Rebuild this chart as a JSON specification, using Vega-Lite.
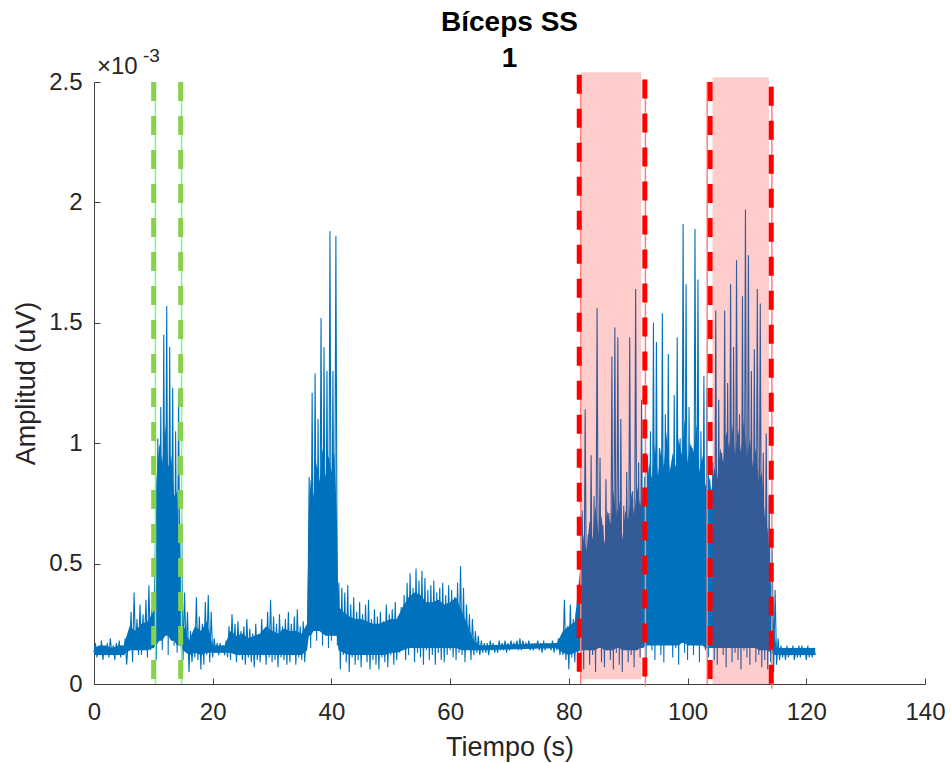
{
"$schema": "https://vega.github.io/schema/vega-lite/v6.json",
"width": 831, "height": 602,
"autosize": {"type": "none"},
"padding": {"left": 94, "top": 82, "right": 26, "bottom": 79},
"background": "white",
"title": {"text": ["Bíceps SS", "1"], "font": "Liberation Sans", "fontSize": 28, "fontWeight": "bold", "color": "#000000", "lineHeight": 36, "anchor": "middle", "offset": -26},
"config": {"view": {"stroke": null}, "axis": {"grid": false, "labelFont": "Liberation Sans", "titleFont": "Liberation Sans", "labelColor": "#262626", "titleColor": "#262626", "domainColor": "#404040", "tickColor": "#404040", "labelFontSize": 24, "titleFontSize": 27, "titleFontWeight": "normal", "domainWidth": 1, "tickWidth": 1, "labelFlush": false}},
"layer": [
{"data": {"values": [
{"t":0,"lo":0.00012,"hi":0.00015},{"t":1,"lo":0.00012,"hi":0.00016},{"t":2,"lo":0.00012,"hi":0.00016},{"t":3,"lo":0.00012,"hi":0.00015},{"t":4,"lo":0.00012,"hi":0.00016},{"t":5,"lo":0.00012,"hi":0.00016},
{"t":6,"lo":0.00014,"hi":0.00024},{"t":7,"lo":0.00014,"hi":0.00022},{"t":8,"lo":0.00014,"hi":0.00025},{"t":9,"lo":0.00014,"hi":0.00026},{"t":10,"lo":0.00015,"hi":0.00030},
{"t":10.5,"lo":0.00016,"hi":0.00085},{"t":11,"lo":0.00018,"hi":0.00100},{"t":11.5,"lo":0.00018,"hi":0.00092},{"t":12,"lo":0.00020,"hi":0.00108},{"t":12.5,"lo":0.00020,"hi":0.00090},{"t":13,"lo":0.00018,"hi":0.00095},{"t":13.5,"lo":0.00018,"hi":0.00078},{"t":14,"lo":0.00016,"hi":0.00080},{"t":14.5,"lo":0.00016,"hi":0.00045},
{"t":15,"lo":0.00014,"hi":0.00025},{"t":16,"lo":0.00012,"hi":0.00018},{"t":17,"lo":0.00013,"hi":0.00024},{"t":18,"lo":0.00012,"hi":0.00022},{"t":19,"lo":0.00013,"hi":0.00026},
{"t":20,"lo":0.00013,"hi":0.00016},{"t":21,"lo":0.00013,"hi":0.00016},{"t":22,"lo":0.00013,"hi":0.00016},{"t":23,"lo":0.00013,"hi":0.00022},{"t":24,"lo":0.00012,"hi":0.00020},{"t":25,"lo":0.00012,"hi":0.00021},{"t":26,"lo":0.00012,"hi":0.00019},{"t":27,"lo":0.00012,"hi":0.00020},{"t":28,"lo":0.00012,"hi":0.00021},{"t":29,"lo":0.00012,"hi":0.00024},{"t":30,"lo":0.00012,"hi":0.00022},{"t":31,"lo":0.00012,"hi":0.00021},{"t":32,"lo":0.00012,"hi":0.00023},{"t":33,"lo":0.00012,"hi":0.00022},{"t":34,"lo":0.00012,"hi":0.00022},{"t":35,"lo":0.00012,"hi":0.00021},{"t":35.9,"lo":0.00014,"hi":0.00025},
{"t":36.2,"lo":0.00020,"hi":0.00072},{"t":36.5,"lo":0.00020,"hi":0.00085},{"t":37,"lo":0.00022,"hi":0.00078},{"t":37.5,"lo":0.00022,"hi":0.00092},{"t":38,"lo":0.00022,"hi":0.00084},{"t":38.5,"lo":0.00021,"hi":0.00098},{"t":39,"lo":0.00020,"hi":0.00086},{"t":39.5,"lo":0.00020,"hi":0.00095},{"t":40,"lo":0.00020,"hi":0.00088},{"t":40.5,"lo":0.00020,"hi":0.00096},{"t":40.9,"lo":0.00020,"hi":0.00070},
{"t":41.2,"lo":0.00014,"hi":0.00032},{"t":42,"lo":0.00013,"hi":0.00030},{"t":43,"lo":0.00012,"hi":0.00028},{"t":44,"lo":0.00012,"hi":0.00027},{"t":45,"lo":0.00012,"hi":0.00027},{"t":46,"lo":0.00012,"hi":0.00026},{"t":47,"lo":0.00012,"hi":0.00025},{"t":48,"lo":0.00012,"hi":0.00025},{"t":49,"lo":0.00012,"hi":0.00026},{"t":50,"lo":0.00013,"hi":0.00027},{"t":51,"lo":0.00013,"hi":0.00027},
{"t":52,"lo":0.00014,"hi":0.00032},{"t":53,"lo":0.00015,"hi":0.00036},{"t":54,"lo":0.00015,"hi":0.00038},{"t":55,"lo":0.00015,"hi":0.00037},{"t":56,"lo":0.00015,"hi":0.00034},{"t":57,"lo":0.00015,"hi":0.00034},{"t":58,"lo":0.00015,"hi":0.00035},{"t":59,"lo":0.00015,"hi":0.00033},{"t":60,"lo":0.00015,"hi":0.00034},{"t":61,"lo":0.00015,"hi":0.00036},{"t":62,"lo":0.00014,"hi":0.00030},{"t":63,"lo":0.00014,"hi":0.00024},{"t":64,"lo":0.00014,"hi":0.00018},
{"t":65,"lo":0.00014,"hi":0.00016},{"t":78,"lo":0.00015,"hi":0.00017},{"t":79,"lo":0.00013,"hi":0.00022},{"t":80,"lo":0.00012,"hi":0.00024},{"t":81,"lo":0.00013,"hi":0.00026},
{"t":82,"lo":0.00014,"hi":0.00050},{"t":82.5,"lo":0.00014,"hi":0.00062},{"t":83,"lo":0.00014,"hi":0.00055},{"t":83.5,"lo":0.00014,"hi":0.00068},{"t":84,"lo":0.00014,"hi":0.00060},{"t":84.5,"lo":0.00014,"hi":0.00074},{"t":85,"lo":0.00015,"hi":0.00062},{"t":85.5,"lo":0.00015,"hi":0.00070},{"t":86,"lo":0.00014,"hi":0.00058},{"t":86.5,"lo":0.00014,"hi":0.00072},{"t":87,"lo":0.00014,"hi":0.00066},{"t":87.5,"lo":0.00014,"hi":0.00080},{"t":88,"lo":0.00015,"hi":0.00070},{"t":88.5,"lo":0.00015,"hi":0.00076},{"t":89,"lo":0.00014,"hi":0.00060},{"t":89.5,"lo":0.00014,"hi":0.00072},{"t":90,"lo":0.00014,"hi":0.00068},{"t":90.5,"lo":0.00014,"hi":0.00080},{"t":91,"lo":0.00014,"hi":0.00070},{"t":91.5,"lo":0.00014,"hi":0.00082},{"t":92,"lo":0.00015,"hi":0.00074},{"t":92.5,"lo":0.00015,"hi":0.00080},
{"t":93,"lo":0.00016,"hi":0.00076},{"t":93.5,"lo":0.00016,"hi":0.00092},{"t":94,"lo":0.00016,"hi":0.00085},{"t":94.5,"lo":0.00016,"hi":0.00100},{"t":95,"lo":0.00016,"hi":0.00086},{"t":95.5,"lo":0.00016,"hi":0.00098},{"t":96,"lo":0.00016,"hi":0.00090},{"t":96.5,"lo":0.00016,"hi":0.00105},{"t":97,"lo":0.00016,"hi":0.00088},{"t":97.5,"lo":0.00016,"hi":0.00096},{"t":98,"lo":0.00016,"hi":0.00090},{"t":98.5,"lo":0.00016,"hi":0.00102},{"t":99,"lo":0.00017,"hi":0.00095},{"t":99.5,"lo":0.00017,"hi":0.00110},{"t":100,"lo":0.00016,"hi":0.00092},{"t":100.5,"lo":0.00016,"hi":0.00100},{"t":101,"lo":0.00016,"hi":0.00096},{"t":101.5,"lo":0.00016,"hi":0.00108},{"t":102,"lo":0.00016,"hi":0.00088},{"t":102.5,"lo":0.00016,"hi":0.00095},{"t":103,"lo":0.00015,"hi":0.00082},{"t":103.5,"lo":0.00015,"hi":0.00088},
{"t":104,"lo":0.00015,"hi":0.00080},{"t":104.5,"lo":0.00015,"hi":0.00090},{"t":105,"lo":0.00015,"hi":0.00085},{"t":105.5,"lo":0.00015,"hi":0.00098},{"t":106,"lo":0.00015,"hi":0.00092},{"t":106.5,"lo":0.00015,"hi":0.00105},{"t":107,"lo":0.00015,"hi":0.00098},{"t":107.5,"lo":0.00015,"hi":0.00108},{"t":108,"lo":0.00015,"hi":0.00095},{"t":108.5,"lo":0.00015,"hi":0.00106},{"t":109,"lo":0.00015,"hi":0.00096},{"t":109.5,"lo":0.00015,"hi":0.00110},{"t":110,"lo":0.00015,"hi":0.00094},{"t":110.5,"lo":0.00015,"hi":0.00102},{"t":111,"lo":0.00015,"hi":0.00090},{"t":111.5,"lo":0.00015,"hi":0.00098},{"t":112,"lo":0.00014,"hi":0.00084},{"t":112.5,"lo":0.00014,"hi":0.00088},{"t":113,"lo":0.00014,"hi":0.00070},{"t":113.5,"lo":0.00014,"hi":0.00064},{"t":114,"lo":0.00013,"hi":0.00042},{"t":114.7,"lo":0.00012,"hi":0.00020},
{"t":115,"lo":0.00012,"hi":0.00015},{"t":121.5,"lo":0.00012,"hi":0.00015}
]},
"mark": {"type": "area", "color": "#0072BD", "opacity": 1},
"encoding": {"x": {"field": "t", "type": "quantitative"}, "y": {"field": "lo", "type": "quantitative"}, "y2": {"field": "hi"}}},
{"data": {"values": [
{"t":0,"a":0.00013},{"t":0.25,"a":0.00017},{"t":0.5,"a":0.00011},{"t":0.75,"a":0.00016},
{"t":1,"a":0.00012},{"t":1.25,"a":0.00018},{"t":1.5,"a":0.00010},{"t":1.75,"a":0.00015},
{"t":2,"a":0.00012},{"t":2.25,"a":0.00017},{"t":2.5,"a":0.00011},{"t":2.75,"a":0.00019},
{"t":3,"a":0.00013},{"t":3.25,"a":0.00016},{"t":3.5,"a":0.00010},{"t":3.75,"a":0.00017},
{"t":4,"a":0.00012},{"t":4.25,"a":0.00018},{"t":4.5,"a":0.00011},{"t":4.75,"a":0.00016},
{"t":5,"a":0.00012},{"t":5.25,"a":0.00019},{"t":5.5,"a":0.00008},{"t":5.75,"a":0.00017},
{"t":6,"a":0.00014},{"t":6.25,"a":0.00030},{"t":6.5,"a":0.00009},{"t":6.75,"a":0.00038},
{"t":7,"a":0.00015},{"t":7.25,"a":0.00027},{"t":7.5,"a":0.00012},{"t":7.75,"a":0.00033},
{"t":8,"a":0.00012},{"t":8.25,"a":0.00029},{"t":8.5,"a":0.00016},{"t":8.75,"a":0.00035},
{"t":9,"a":0.00011},{"t":9.25,"a":0.00041},{"t":9.5,"a":0.00014},{"t":9.75,"a":0.00031},
{"t":10,"a":0.00015},{"t":10.25,"a":0.00036},{"t":10.5,"a":0.00010},{"t":10.75,"a":0.00102},
{"t":11,"a":0.00018},{"t":11.25,"a":0.00115},{"t":11.5,"a":0.00014},{"t":11.75,"a":0.00145},
{"t":12,"a":0.00022},{"t":12.25,"a":0.00157},{"t":12.5,"a":0.00012},{"t":12.75,"a":0.00140},
{"t":13,"a":0.00020},{"t":13.25,"a":0.00123},{"t":13.5,"a":0.00016},{"t":13.75,"a":0.00105},
{"t":14,"a":0.00013},{"t":14.25,"a":0.00121},{"t":14.5,"a":0.00022},{"t":14.75,"a":0.00072},
{"t":15,"a":0.00010},{"t":15.25,"a":0.00038},{"t":15.5,"a":0.00014},{"t":15.75,"a":0.00030},
{"t":16,"a":0.00005},{"t":16.25,"a":0.00022},{"t":16.5,"a":0.00009},{"t":16.75,"a":0.00018},
{"t":17,"a":0.00011},{"t":17.25,"a":0.00036},{"t":17.5,"a":0.00010},{"t":17.75,"a":0.00028},
{"t":18,"a":0.00006},{"t":18.25,"a":0.00025},{"t":18.5,"a":0.00008},{"t":18.75,"a":0.00034},
{"t":19,"a":0.00012},{"t":19.25,"a":0.00037},{"t":19.5,"a":0.00009},{"t":19.75,"a":0.00030},
{"t":20,"a":0.00011},{"t":20.25,"a":0.00019},{"t":20.5,"a":0.00013},{"t":20.75,"a":0.00017},
{"t":21,"a":0.00012},{"t":21.25,"a":0.00017},{"t":21.5,"a":0.00013},{"t":21.75,"a":0.00016},
{"t":22,"a":0.00012},{"t":22.25,"a":0.00018},{"t":22.5,"a":0.00011},{"t":22.75,"a":0.00024},
{"t":23,"a":0.00010},{"t":23.25,"a":0.00029},{"t":23.5,"a":0.00013},{"t":23.75,"a":0.00025},
{"t":24,"a":0.00009},{"t":24.25,"a":0.00026},{"t":24.5,"a":0.00012},{"t":24.75,"a":0.00022},
{"t":25,"a":0.00010},{"t":25.25,"a":0.00024},{"t":25.5,"a":0.00008},{"t":25.75,"a":0.00027},
{"t":26,"a":0.00011},{"t":26.25,"a":0.00023},{"t":26.5,"a":0.00009},{"t":26.75,"a":0.00021},
{"t":27,"a":0.00007},{"t":27.25,"a":0.00025},{"t":27.5,"a":0.00010},{"t":27.75,"a":0.00020},
{"t":28,"a":0.00009},{"t":28.25,"a":0.00027},{"t":28.5,"a":0.00012},{"t":28.75,"a":0.00022},
{"t":29,"a":0.00008},{"t":29.25,"a":0.00030},{"t":29.5,"a":0.00011},{"t":29.75,"a":0.00035},
{"t":30,"a":0.00009},{"t":30.25,"a":0.00028},{"t":30.5,"a":0.00010},{"t":30.75,"a":0.00025},
{"t":31,"a":0.00007},{"t":31.25,"a":0.00029},{"t":31.5,"a":0.00011},{"t":31.75,"a":0.00024},
{"t":32,"a":0.00010},{"t":32.25,"a":0.00027},{"t":32.5,"a":0.00008},{"t":32.75,"a":0.00030},
{"t":33,"a":0.00009},{"t":33.25,"a":0.00025},{"t":33.5,"a":0.00012},{"t":33.75,"a":0.00028},
{"t":34,"a":0.00008},{"t":34.25,"a":0.00031},{"t":34.5,"a":0.00011},{"t":34.75,"a":0.00024},
{"t":35,"a":0.00010},{"t":35.25,"a":0.00026},{"t":35.5,"a":0.00009},{"t":35.75,"a":0.00023},
{"t":36,"a":0.00020},{"t":36.25,"a":0.00086},{"t":36.5,"a":0.00015},{"t":36.75,"a":0.00121},
{"t":37,"a":0.00022},{"t":37.25,"a":0.00129},{"t":37.5,"a":0.00018},{"t":37.75,"a":0.00110},
{"t":38,"a":0.00025},{"t":38.25,"a":0.00152},{"t":38.5,"a":0.00016},{"t":38.75,"a":0.00140},
{"t":39,"a":0.00021},{"t":39.25,"a":0.00130},{"t":39.5,"a":0.00015},{"t":39.75,"a":0.00188},
{"t":40,"a":0.00018},{"t":40.25,"a":0.00130},{"t":40.5,"a":0.00020},{"t":40.75,"a":0.00186},
{"t":41,"a":0.00016},{"t":41.25,"a":0.00042},{"t":41.5,"a":0.00006},{"t":41.75,"a":0.00040},
{"t":42,"a":0.00012},{"t":42.25,"a":0.00038},{"t":42.5,"a":0.00009},{"t":42.75,"a":0.00041},
{"t":43,"a":0.00005},{"t":43.25,"a":0.00033},{"t":43.5,"a":0.00011},{"t":43.75,"a":0.00036},
{"t":44,"a":0.00008},{"t":44.25,"a":0.00030},{"t":44.5,"a":0.00010},{"t":44.75,"a":0.00034},
{"t":45,"a":0.00007},{"t":45.25,"a":0.00029},{"t":45.5,"a":0.00012},{"t":45.75,"a":0.00033},
{"t":46,"a":0.00009},{"t":46.25,"a":0.00035},{"t":46.5,"a":0.00006},{"t":46.75,"a":0.00027},
{"t":47,"a":0.00010},{"t":47.25,"a":0.00031},{"t":47.5,"a":0.00008},{"t":47.75,"a":0.00028},
{"t":48,"a":0.00006},{"t":48.25,"a":0.00030},{"t":48.5,"a":0.00011},{"t":48.75,"a":0.00026},
{"t":49,"a":0.00009},{"t":49.25,"a":0.00033},{"t":49.5,"a":0.00007},{"t":49.75,"a":0.00029},
{"t":50,"a":0.00012},{"t":50.25,"a":0.00031},{"t":50.5,"a":0.00008},{"t":50.75,"a":0.00034},
{"t":51,"a":0.00010},{"t":51.25,"a":0.00028},{"t":51.5,"a":0.00013},{"t":51.75,"a":0.00032},
{"t":52,"a":0.00014},{"t":52.25,"a":0.00037},{"t":52.5,"a":0.00010},{"t":52.75,"a":0.00042},
{"t":53,"a":0.00012},{"t":53.25,"a":0.00046},{"t":53.5,"a":0.00015},{"t":53.75,"a":0.00040},
{"t":54,"a":0.00009},{"t":54.25,"a":0.00048},{"t":54.5,"a":0.00013},{"t":54.75,"a":0.00043},
{"t":55,"a":0.00011},{"t":55.25,"a":0.00047},{"t":55.5,"a":0.00008},{"t":55.75,"a":0.00044},
{"t":56,"a":0.00014},{"t":56.25,"a":0.00039},{"t":56.5,"a":0.00010},{"t":56.75,"a":0.00041},
{"t":57,"a":0.00012},{"t":57.25,"a":0.00043},{"t":57.5,"a":0.00008},{"t":57.75,"a":0.00038},
{"t":58,"a":0.00013},{"t":58.25,"a":0.00040},{"t":58.5,"a":0.00010},{"t":58.75,"a":0.00042},
{"t":59,"a":0.00009},{"t":59.25,"a":0.00037},{"t":59.5,"a":0.00012},{"t":59.75,"a":0.00041},
{"t":60,"a":0.00014},{"t":60.25,"a":0.00039},{"t":60.5,"a":0.00011},{"t":60.75,"a":0.00036},
{"t":61,"a":0.00010},{"t":61.25,"a":0.00042},{"t":61.5,"a":0.00013},{"t":61.75,"a":0.00049},
{"t":62,"a":0.00012},{"t":62.25,"a":0.00040},{"t":62.5,"a":0.00009},{"t":62.75,"a":0.00033},
{"t":63,"a":0.00015},{"t":63.25,"a":0.00029},{"t":63.5,"a":0.00010},{"t":63.75,"a":0.00027},
{"t":64,"a":0.00012},{"t":64.25,"a":0.00022},{"t":64.5,"a":0.00013},{"t":64.75,"a":0.00020},
{"t":65,"a":0.00012},{"t":65.25,"a":0.00018},{"t":65.5,"a":0.00013},{"t":65.75,"a":0.00017},
{"t":66,"a":0.00013},{"t":66.25,"a":0.00017},{"t":66.5,"a":0.00012},{"t":66.75,"a":0.00018},
{"t":67,"a":0.00014},{"t":67.25,"a":0.00017},{"t":67.5,"a":0.00013},{"t":67.75,"a":0.00016},
{"t":68,"a":0.00013},{"t":68.25,"a":0.00018},{"t":68.5,"a":0.00014},{"t":68.75,"a":0.00017},
{"t":69,"a":0.00014},{"t":69.25,"a":0.00018},{"t":69.5,"a":0.00013},{"t":69.75,"a":0.00017},
{"t":70,"a":0.00014},{"t":70.25,"a":0.00018},{"t":70.5,"a":0.00015},{"t":70.75,"a":0.00017},
{"t":71,"a":0.00015},{"t":71.25,"a":0.00018},{"t":71.5,"a":0.00014},{"t":71.75,"a":0.00019},
{"t":72,"a":0.00014},{"t":72.25,"a":0.00018},{"t":72.5,"a":0.00015},{"t":72.75,"a":0.00017},
{"t":73,"a":0.00015},{"t":73.25,"a":0.00018},{"t":73.5,"a":0.00014},{"t":73.75,"a":0.00017},
{"t":74,"a":0.00014},{"t":74.25,"a":0.00017},{"t":74.5,"a":0.00015},{"t":74.75,"a":0.00018},
{"t":75,"a":0.00014},{"t":75.25,"a":0.00017},{"t":75.5,"a":0.00013},{"t":75.75,"a":0.00018},
{"t":76,"a":0.00014},{"t":76.25,"a":0.00017},{"t":76.5,"a":0.00015},{"t":76.75,"a":0.00016},
{"t":77,"a":0.00014},{"t":77.25,"a":0.00018},{"t":77.5,"a":0.00013},{"t":77.75,"a":0.00017},
{"t":78,"a":0.00014},{"t":78.25,"a":0.00019},{"t":78.5,"a":0.00012},{"t":78.75,"a":0.00018},
{"t":79,"a":0.00012},{"t":79.25,"a":0.00035},{"t":79.5,"a":0.00010},{"t":79.75,"a":0.00024},
{"t":80,"a":0.00006},{"t":80.25,"a":0.00033},{"t":80.5,"a":0.00011},{"t":80.75,"a":0.00027},
{"t":81,"a":0.00009},{"t":81.25,"a":0.00030},{"t":81.5,"a":0.00012},{"t":81.75,"a":0.00038},
{"t":82,"a":0.00010},{"t":82.25,"a":0.00072},{"t":82.5,"a":0.00006},{"t":82.75,"a":0.00114},
{"t":83,"a":0.00015},{"t":83.25,"a":0.00062},{"t":83.5,"a":0.00008},{"t":83.75,"a":0.00095},
{"t":84,"a":0.00012},{"t":84.25,"a":0.00078},{"t":84.5,"a":0.00005},{"t":84.75,"a":0.00156},
{"t":85,"a":0.00018},{"t":85.25,"a":0.00094},{"t":85.5,"a":0.00009},{"t":85.75,"a":0.00066},
{"t":86,"a":0.00007},{"t":86.25,"a":0.00085},{"t":86.5,"a":0.00014},{"t":86.75,"a":0.00071},
{"t":87,"a":0.00010},{"t":87.25,"a":0.00136},{"t":87.5,"a":0.00006},{"t":87.75,"a":0.00148},
{"t":88,"a":0.00013},{"t":88.25,"a":0.00144},{"t":88.5,"a":0.00008},{"t":88.75,"a":0.00110},
{"t":89,"a":0.00005},{"t":89.25,"a":0.00074},{"t":89.5,"a":0.00016},{"t":89.75,"a":0.00088},
{"t":90,"a":0.00009},{"t":90.25,"a":0.00144},{"t":90.5,"a":0.00012},{"t":90.75,"a":0.00080},
{"t":91,"a":0.00007},{"t":91.25,"a":0.00164},{"t":91.5,"a":0.00015},{"t":91.75,"a":0.00092},
{"t":92,"a":0.00011},{"t":92.25,"a":0.00118},{"t":92.5,"a":0.00018},{"t":92.75,"a":0.00086},
{"t":93,"a":0.00008},{"t":93.25,"a":0.00095},{"t":93.5,"a":0.00022},{"t":93.75,"a":0.00105},
{"t":94,"a":0.00014},{"t":94.25,"a":0.00150},{"t":94.5,"a":0.00010},{"t":94.75,"a":0.00142},
{"t":95,"a":0.00020},{"t":95.25,"a":0.00098},{"t":95.5,"a":0.00012},{"t":95.75,"a":0.00154},
{"t":96,"a":0.00009},{"t":96.25,"a":0.00112},{"t":96.5,"a":0.00017},{"t":96.75,"a":0.00137},
{"t":97,"a":0.00021},{"t":97.25,"a":0.00090},{"t":97.5,"a":0.00011},{"t":97.75,"a":0.00120},
{"t":98,"a":0.00015},{"t":98.25,"a":0.00144},{"t":98.5,"a":0.00008},{"t":98.75,"a":0.00102},
{"t":99,"a":0.00024},{"t":99.25,"a":0.00191},{"t":99.5,"a":0.00013},{"t":99.75,"a":0.00166},
{"t":100,"a":0.00010},{"t":100.25,"a":0.00115},{"t":100.5,"a":0.00019},{"t":100.75,"a":0.00098},
{"t":101,"a":0.00012},{"t":101.25,"a":0.00189},{"t":101.5,"a":0.00016},{"t":101.75,"a":0.00168},
{"t":102,"a":0.00009},{"t":102.25,"a":0.00105},{"t":102.5,"a":0.00020},{"t":102.75,"a":0.00128},
{"t":103,"a":0.00014},{"t":103.25,"a":0.00123},{"t":103.5,"a":0.00011},{"t":103.75,"a":0.00085},
{"t":104,"a":0.00017},{"t":104.25,"a":0.00092},{"t":104.5,"a":0.00010},{"t":104.75,"a":0.00155},
{"t":105,"a":0.00008},{"t":105.25,"a":0.00118},{"t":105.5,"a":0.00015},{"t":105.75,"a":0.00096},
{"t":106,"a":0.00012},{"t":106.25,"a":0.00155},{"t":106.5,"a":0.00007},{"t":106.75,"a":0.00125},
{"t":107,"a":0.00016},{"t":107.25,"a":0.00166},{"t":107.5,"a":0.00009},{"t":107.75,"a":0.00140},
{"t":108,"a":0.00013},{"t":108.25,"a":0.00176},{"t":108.5,"a":0.00010},{"t":108.75,"a":0.00112},
{"t":109,"a":0.00006},{"t":109.25,"a":0.00161},{"t":109.5,"a":0.00014},{"t":109.75,"a":0.00197},
{"t":110,"a":0.00011},{"t":110.25,"a":0.00178},{"t":110.5,"a":0.00008},{"t":110.75,"a":0.00130},
{"t":111,"a":0.00015},{"t":111.25,"a":0.00139},{"t":111.5,"a":0.00009},{"t":111.75,"a":0.00164},
{"t":112,"a":0.00012},{"t":112.25,"a":0.00158},{"t":112.5,"a":0.00007},{"t":112.75,"a":0.00096},
{"t":113,"a":0.00010},{"t":113.25,"a":0.00104},{"t":113.5,"a":0.00006},{"t":113.75,"a":0.00078},
{"t":114,"a":0.00009},{"t":114.25,"a":0.00060},{"t":114.5,"a":0.00005},{"t":114.75,"a":0.00039},
{"t":115,"a":0.00008},{"t":115.25,"a":0.00019},{"t":115.5,"a":0.00010},{"t":115.75,"a":0.00016},
{"t":116,"a":0.00011},{"t":116.25,"a":0.00015},{"t":116.5,"a":0.00010},{"t":116.75,"a":0.00016},
{"t":117,"a":0.00011},{"t":117.25,"a":0.00015},{"t":117.5,"a":0.00012},{"t":117.75,"a":0.00016},
{"t":118,"a":0.00010},{"t":118.25,"a":0.00015},{"t":118.5,"a":0.00011},{"t":118.75,"a":0.00016},
{"t":119,"a":0.00011},{"t":119.25,"a":0.00016},{"t":119.5,"a":0.00012},{"t":119.75,"a":0.00015},
{"t":120,"a":0.00010},{"t":120.25,"a":0.00016},{"t":120.5,"a":0.00011},{"t":120.75,"a":0.00015},
{"t":121,"a":0.00011},{"t":121.25,"a":0.00015},{"t":121.5,"a":0.00012}
]},
"mark": {"type": "line", "color": "#0072BD", "strokeWidth": 1.1},
"encoding": {
"x": {"field": "t", "type": "quantitative", "scale": {"domain": [0, 140], "nice": false}, "axis": {"values": [0,20,40,60,80,100,120,140], "format": "d", "title": "Tiempo (s)", "tickSize": -6, "labelPadding": 22, "titlePadding": 10}},
"y": {"field": "a", "type": "quantitative", "scale": {"domain": [0, 0.0025], "nice": false}, "axis": {"values": [0,0.0005,0.001,0.0015,0.002,0.0025], "labelExpr": "format(datum.value*1000, '.1~f')", "title": "Amplitud (uV)", "tickSize": -6, "labelPadding": 18, "titlePadding": 8}}
}},
{"data": {"values": [{"x1": 82.1, "x2": 92.2, "b": 0.00002, "tp": 0.00254}, {"x1": 104.2, "x2": 113.7, "b": 0, "tp": 0.00252}]},
"mark": {"type": "rect", "color": "#FF0000", "opacity": 0.2},
"encoding": {"x": {"field": "x1", "type": "quantitative"}, "x2": {"field": "x2"}, "y": {"field": "b", "type": "quantitative"}, "y2": {"field": "tp"}}},
{"data": {"values": [{"t": 10.35}, {"t": 14.75}]},
"mark": {"type": "rule", "color": "#7CFC7C", "strokeWidth": 1.5},
"encoding": {"x": {"field": "t", "type": "quantitative"}, "y": {"datum": 0.0025}, "y2": {"datum": 0}}},
{"data": {"values": [{"t": 10.05}, {"t": 14.6}]},
"mark": {"type": "rule", "color": "#88D14C", "strokeWidth": 5, "strokeDash": [19, 15]},
"encoding": {"x": {"field": "t", "type": "quantitative"}, "y": {"datum": 0.0025}, "y2": {"datum": 0}}},
{"data": {"values": [{"t": 82.0, "tp": 0.00253, "b": 0}, {"t": 92.9, "tp": 0.00251, "b": -0.00001}, {"t": 103.3, "tp": 0.0025, "b": 0}, {"t": 114.2, "tp": 0.00248, "b": -0.00002}]},
"mark": {"type": "rule", "color": "#FF8080", "strokeWidth": 1.5},
"encoding": {"x": {"field": "t", "type": "quantitative"}, "y": {"field": "tp", "type": "quantitative"}, "y2": {"field": "b"}}},
{"data": {"values": [{"t": 81.75, "tp": 0.00253, "b": 0}, {"t": 92.8, "tp": 0.00251, "b": -0.00001}, {"t": 103.8, "tp": 0.0025, "b": 0}, {"t": 114.1, "tp": 0.00248, "b": -0.00002}]},
"mark": {"type": "rule", "color": "#FF0000", "strokeWidth": 5, "strokeDash": [19, 15]},
"encoding": {"x": {"field": "t", "type": "quantitative"}, "y": {"field": "tp", "type": "quantitative"}, "y2": {"field": "b"}}},
{"data": {"values": [{"s": "×10"}]},
"mark": {"type": "text", "font": "Liberation Sans", "fontSize": 24, "color": "#262626", "align": "left", "baseline": "alphabetic", "dx": 3, "dy": -8},
"encoding": {"x": {"datum": 0}, "y": {"datum": 0.0025}, "text": {"field": "s"}}},
{"data": {"values": [{"s": "-3"}]},
"mark": {"type": "text", "font": "Liberation Sans", "fontSize": 19, "color": "#262626", "align": "left", "baseline": "alphabetic", "dx": 49, "dy": -20},
"encoding": {"x": {"datum": 0}, "y": {"datum": 0.0025}, "text": {"field": "s"}}}
]
}
